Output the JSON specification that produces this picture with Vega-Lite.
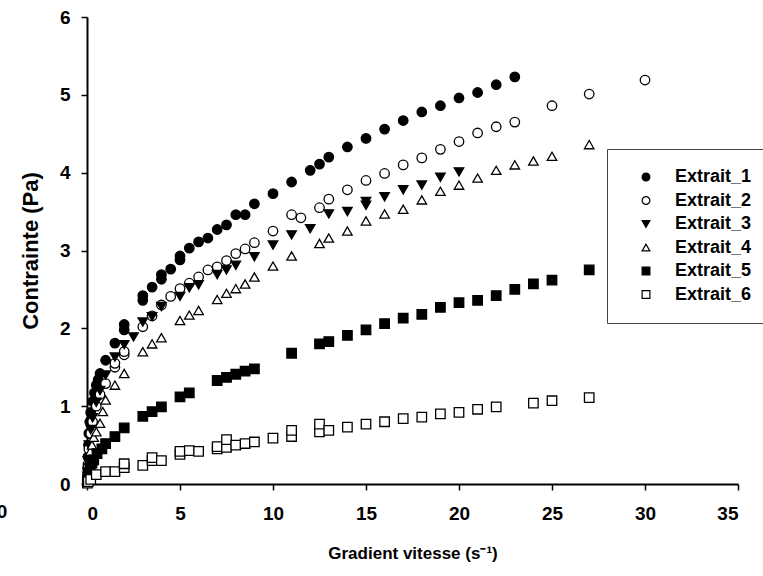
{
  "$schema": "https://vega.github.io/schema/vega-lite/v6.json",
  "width": 651,
  "height": 467,
  "autosize": {"type": "none"},
  "padding": {"left": 87, "top": 17, "right": 25, "bottom": 92},
  "background": "white",
  "config": {"view": {"stroke": null}, "font": "Liberation Sans"},
  "datasets": {
    "pts": [
      {"s":"Extrait_1","x":0.01,"y":0.05},{"s":"Extrait_1","x":0.03,"y":0.2},{"s":"Extrait_1","x":0.05,"y":0.35},{"s":"Extrait_1","x":0.08,"y":0.5},{"s":"Extrait_1","x":0.1,"y":0.65},{"s":"Extrait_1","x":0.15,"y":0.8},{"s":"Extrait_1","x":0.2,"y":0.92},{"s":"Extrait_1","x":0.3,"y":1.06},{"s":"Extrait_1","x":0.4,"y":1.17},{"s":"Extrait_1","x":0.5,"y":1.27},{"s":"Extrait_1","x":0.6,"y":1.34},{"s":"Extrait_1","x":0.7,"y":1.42},{"s":"Extrait_1","x":1,"y":1.59},{"s":"Extrait_1","x":1.5,"y":1.81},{"s":"Extrait_1","x":2,"y":1.98},{"s":"Extrait_1","x":2,"y":2.05},{"s":"Extrait_1","x":3,"y":2.36},{"s":"Extrait_1","x":3,"y":2.42},{"s":"Extrait_1","x":3.5,"y":2.53},{"s":"Extrait_1","x":4,"y":2.63},{"s":"Extrait_1","x":4,"y":2.69},{"s":"Extrait_1","x":4.5,"y":2.76},{"s":"Extrait_1","x":5,"y":2.88},{"s":"Extrait_1","x":5,"y":2.93},{"s":"Extrait_1","x":5.5,"y":3.03},{"s":"Extrait_1","x":6,"y":3.11},{"s":"Extrait_1","x":6.5,"y":3.16},{"s":"Extrait_1","x":7,"y":3.27},{"s":"Extrait_1","x":7.5,"y":3.33},{"s":"Extrait_1","x":8,"y":3.46},{"s":"Extrait_1","x":8.5,"y":3.46},{"s":"Extrait_1","x":9,"y":3.6},{"s":"Extrait_1","x":10,"y":3.73},{"s":"Extrait_1","x":11,"y":3.88},{"s":"Extrait_1","x":12,"y":4.03},{"s":"Extrait_1","x":12.5,"y":4.11},{"s":"Extrait_1","x":13,"y":4.2},{"s":"Extrait_1","x":14,"y":4.33},{"s":"Extrait_1","x":15,"y":4.44},{"s":"Extrait_1","x":16,"y":4.56},{"s":"Extrait_1","x":17,"y":4.67},{"s":"Extrait_1","x":18,"y":4.78},{"s":"Extrait_1","x":19,"y":4.86},{"s":"Extrait_1","x":20,"y":4.96},{"s":"Extrait_1","x":21,"y":5.03},{"s":"Extrait_1","x":22,"y":5.13},{"s":"Extrait_1","x":23,"y":5.23},
      {"s":"Extrait_2","x":0.02,"y":0.1},{"s":"Extrait_2","x":0.05,"y":0.25},{"s":"Extrait_2","x":0.1,"y":0.45},{"s":"Extrait_2","x":0.2,"y":0.65},{"s":"Extrait_2","x":0.3,"y":0.8},{"s":"Extrait_2","x":0.5,"y":1.0},{"s":"Extrait_2","x":0.7,"y":1.15},{"s":"Extrait_2","x":1,"y":1.29},{"s":"Extrait_2","x":1.5,"y":1.5},{"s":"Extrait_2","x":1.5,"y":1.55},{"s":"Extrait_2","x":2,"y":1.66},{"s":"Extrait_2","x":2,"y":1.7},{"s":"Extrait_2","x":3,"y":2.02},{"s":"Extrait_2","x":3.5,"y":2.16},{"s":"Extrait_2","x":4,"y":2.3},{"s":"Extrait_2","x":4.5,"y":2.41},{"s":"Extrait_2","x":5,"y":2.51},{"s":"Extrait_2","x":5.5,"y":2.58},{"s":"Extrait_2","x":6,"y":2.66},{"s":"Extrait_2","x":6.5,"y":2.75},{"s":"Extrait_2","x":7,"y":2.79},{"s":"Extrait_2","x":7.5,"y":2.87},{"s":"Extrait_2","x":8,"y":2.96},{"s":"Extrait_2","x":8.5,"y":3.02},{"s":"Extrait_2","x":9,"y":3.1},{"s":"Extrait_2","x":10,"y":3.25},{"s":"Extrait_2","x":11,"y":3.46},{"s":"Extrait_2","x":11.5,"y":3.42},{"s":"Extrait_2","x":12.5,"y":3.55},{"s":"Extrait_2","x":13,"y":3.66},{"s":"Extrait_2","x":14,"y":3.78},{"s":"Extrait_2","x":15,"y":3.9},{"s":"Extrait_2","x":16,"y":3.99},{"s":"Extrait_2","x":17,"y":4.1},{"s":"Extrait_2","x":18,"y":4.19},{"s":"Extrait_2","x":19,"y":4.3},{"s":"Extrait_2","x":20,"y":4.4},{"s":"Extrait_2","x":21,"y":4.51},{"s":"Extrait_2","x":22,"y":4.59},{"s":"Extrait_2","x":23,"y":4.65},{"s":"Extrait_2","x":25,"y":4.86},{"s":"Extrait_2","x":27,"y":5.01},{"s":"Extrait_2","x":30,"y":5.19},
      {"s":"Extrait_3","x":0.02,"y":0.1},{"s":"Extrait_3","x":0.05,"y":0.3},{"s":"Extrait_3","x":0.1,"y":0.5},{"s":"Extrait_3","x":0.2,"y":0.7},{"s":"Extrait_3","x":0.3,"y":0.85},{"s":"Extrait_3","x":0.5,"y":1.05},{"s":"Extrait_3","x":0.7,"y":1.2},{"s":"Extrait_3","x":1,"y":1.4},{"s":"Extrait_3","x":1.5,"y":1.63},{"s":"Extrait_3","x":2,"y":1.79},{"s":"Extrait_3","x":2.5,"y":1.89},{"s":"Extrait_3","x":3,"y":2.08},{"s":"Extrait_3","x":3.5,"y":2.15},{"s":"Extrait_3","x":4,"y":2.28},{"s":"Extrait_3","x":5,"y":2.41},{"s":"Extrait_3","x":5.5,"y":2.52},{"s":"Extrait_3","x":6,"y":2.56},{"s":"Extrait_3","x":7,"y":2.69},{"s":"Extrait_3","x":7.5,"y":2.75},{"s":"Extrait_3","x":8,"y":2.81},{"s":"Extrait_3","x":9,"y":2.92},{"s":"Extrait_3","x":10,"y":3.07},{"s":"Extrait_3","x":11,"y":3.2},{"s":"Extrait_3","x":12,"y":3.28},{"s":"Extrait_3","x":13,"y":3.47},{"s":"Extrait_3","x":14,"y":3.5},{"s":"Extrait_3","x":15,"y":3.58},{"s":"Extrait_3","x":15,"y":3.63},{"s":"Extrait_3","x":16,"y":3.69},{"s":"Extrait_3","x":17,"y":3.78},{"s":"Extrait_3","x":18,"y":3.84},{"s":"Extrait_3","x":19,"y":3.94},{"s":"Extrait_3","x":20,"y":4.01},
      {"s":"Extrait_4","x":0.02,"y":0.05},{"s":"Extrait_4","x":0.05,"y":0.15},{"s":"Extrait_4","x":0.1,"y":0.3},{"s":"Extrait_4","x":0.18,"y":0.42},{"s":"Extrait_4","x":0.27,"y":0.5},{"s":"Extrait_4","x":0.36,"y":0.6},{"s":"Extrait_4","x":0.5,"y":0.67},{"s":"Extrait_4","x":0.7,"y":0.78},{"s":"Extrait_4","x":0.85,"y":0.93},{"s":"Extrait_4","x":1,"y":1.08},{"s":"Extrait_4","x":1.5,"y":1.27},{"s":"Extrait_4","x":2,"y":1.42},{"s":"Extrait_4","x":3,"y":1.7},{"s":"Extrait_4","x":3.5,"y":1.8},{"s":"Extrait_4","x":4,"y":1.88},{"s":"Extrait_4","x":5,"y":2.1},{"s":"Extrait_4","x":5.5,"y":2.17},{"s":"Extrait_4","x":6,"y":2.23},{"s":"Extrait_4","x":7,"y":2.37},{"s":"Extrait_4","x":7.5,"y":2.45},{"s":"Extrait_4","x":8,"y":2.51},{"s":"Extrait_4","x":8.5,"y":2.57},{"s":"Extrait_4","x":9,"y":2.66},{"s":"Extrait_4","x":10,"y":2.8},{"s":"Extrait_4","x":11,"y":2.93},{"s":"Extrait_4","x":12.5,"y":3.09},{"s":"Extrait_4","x":13,"y":3.16},{"s":"Extrait_4","x":14,"y":3.25},{"s":"Extrait_4","x":15,"y":3.38},{"s":"Extrait_4","x":16,"y":3.47},{"s":"Extrait_4","x":17,"y":3.53},{"s":"Extrait_4","x":18,"y":3.65},{"s":"Extrait_4","x":19,"y":3.76},{"s":"Extrait_4","x":20,"y":3.84},{"s":"Extrait_4","x":21,"y":3.93},{"s":"Extrait_4","x":22,"y":4.03},{"s":"Extrait_4","x":23,"y":4.1},{"s":"Extrait_4","x":24,"y":4.15},{"s":"Extrait_4","x":25,"y":4.21},{"s":"Extrait_4","x":27,"y":4.36},
      {"s":"Extrait_5","x":0.02,"y":0.03},{"s":"Extrait_5","x":0.05,"y":0.08},{"s":"Extrait_5","x":0.1,"y":0.15},{"s":"Extrait_5","x":0.18,"y":0.22},{"s":"Extrait_5","x":0.27,"y":0.27},{"s":"Extrait_5","x":0.36,"y":0.31},{"s":"Extrait_5","x":0.54,"y":0.39},{"s":"Extrait_5","x":0.8,"y":0.45},{"s":"Extrait_5","x":1,"y":0.52},{"s":"Extrait_5","x":1.5,"y":0.61},{"s":"Extrait_5","x":2,"y":0.72},{"s":"Extrait_5","x":3,"y":0.87},{"s":"Extrait_5","x":3.5,"y":0.93},{"s":"Extrait_5","x":4,"y":0.99},{"s":"Extrait_5","x":5,"y":1.12},{"s":"Extrait_5","x":5.5,"y":1.17},{"s":"Extrait_5","x":7,"y":1.33},{"s":"Extrait_5","x":7.5,"y":1.37},{"s":"Extrait_5","x":8,"y":1.41},{"s":"Extrait_5","x":8.5,"y":1.45},{"s":"Extrait_5","x":9,"y":1.48},{"s":"Extrait_5","x":11,"y":1.68},{"s":"Extrait_5","x":12.5,"y":1.8},{"s":"Extrait_5","x":13,"y":1.83},{"s":"Extrait_5","x":14,"y":1.91},{"s":"Extrait_5","x":15,"y":1.98},{"s":"Extrait_5","x":16,"y":2.06},{"s":"Extrait_5","x":17,"y":2.13},{"s":"Extrait_5","x":18,"y":2.18},{"s":"Extrait_5","x":19,"y":2.27},{"s":"Extrait_5","x":20,"y":2.33},{"s":"Extrait_5","x":21,"y":2.36},{"s":"Extrait_5","x":22,"y":2.42},{"s":"Extrait_5","x":23,"y":2.5},{"s":"Extrait_5","x":24,"y":2.57},{"s":"Extrait_5","x":25,"y":2.62},{"s":"Extrait_5","x":27,"y":2.75},
      {"s":"Extrait_6","x":0.02,"y":0.01},{"s":"Extrait_6","x":0.07,"y":0.03},{"s":"Extrait_6","x":0.2,"y":0.06},{"s":"Extrait_6","x":0.5,"y":0.12},{"s":"Extrait_6","x":1,"y":0.16},{"s":"Extrait_6","x":1.5,"y":0.16},{"s":"Extrait_6","x":2,"y":0.21},{"s":"Extrait_6","x":2,"y":0.26},{"s":"Extrait_6","x":3,"y":0.24},{"s":"Extrait_6","x":3.5,"y":0.3},{"s":"Extrait_6","x":3.5,"y":0.34},{"s":"Extrait_6","x":4,"y":0.3},{"s":"Extrait_6","x":5,"y":0.38},{"s":"Extrait_6","x":5,"y":0.42},{"s":"Extrait_6","x":5.5,"y":0.43},{"s":"Extrait_6","x":6,"y":0.42},{"s":"Extrait_6","x":7,"y":0.45},{"s":"Extrait_6","x":7,"y":0.48},{"s":"Extrait_6","x":7.5,"y":0.47},{"s":"Extrait_6","x":7.5,"y":0.57},{"s":"Extrait_6","x":8,"y":0.5},{"s":"Extrait_6","x":8.5,"y":0.52},{"s":"Extrait_6","x":9,"y":0.54},{"s":"Extrait_6","x":10,"y":0.59},{"s":"Extrait_6","x":11,"y":0.61},{"s":"Extrait_6","x":11,"y":0.69},{"s":"Extrait_6","x":12.5,"y":0.67},{"s":"Extrait_6","x":12.5,"y":0.77},{"s":"Extrait_6","x":13,"y":0.69},{"s":"Extrait_6","x":14,"y":0.73},{"s":"Extrait_6","x":15,"y":0.77},{"s":"Extrait_6","x":16,"y":0.8},{"s":"Extrait_6","x":17,"y":0.84},{"s":"Extrait_6","x":18,"y":0.86},{"s":"Extrait_6","x":19,"y":0.9},{"s":"Extrait_6","x":20,"y":0.92},{"s":"Extrait_6","x":21,"y":0.96},{"s":"Extrait_6","x":22,"y":0.99},{"s":"Extrait_6","x":24,"y":1.04},{"s":"Extrait_6","x":25,"y":1.07},{"s":"Extrait_6","x":27,"y":1.11}
    ]
  },
  "layer": [
    {
      "data": {"name": "pts"},
      "mark": {"type": "point", "filled": true, "stroke": "black", "strokeWidth": 1.3, "size": 90, "opacity": 1},
      "encoding": {
        "x": {
          "field": "x", "type": "quantitative",
          "scale": {"domain": [0, 35], "nice": false, "zero": false},
          "axis": {
            "title": "Gradient vitesse (s⁻¹)", "values": [0, 5, 10, 15, 20, 25, 30, 35], "format": "d",
            "grid": false, "domainColor": "black", "domainWidth": 2, "tickColor": "black", "tickWidth": 1.5, "tickSize": 6,
            "labelFont": "Liberation Sans", "labelFontWeight": "bold", "labelFontSize": 19, "labelColor": "black", "labelPadding": 14,
            "titleFont": "Liberation Sans", "titleFontWeight": "bold", "titleFontSize": 17, "titleColor": "black", "titlePadding": 22
          }
        },
        "y": {
          "field": "y", "type": "quantitative",
          "scale": {"domain": [0, 6], "nice": false},
          "axis": {
            "title": "Contrainte (Pa)", "values": [0, 1, 2, 3, 4, 5, 6], "format": "d",
            "grid": false, "domainColor": "black", "domainWidth": 2, "tickColor": "black", "tickWidth": 1.5, "tickSize": 6,
            "labelFont": "Liberation Sans", "labelFontWeight": "bold", "labelFontSize": 19, "labelColor": "black", "labelPadding": 11,
            "titleFont": "Liberation Sans", "titleFontWeight": "bold", "titleFontSize": 22, "titleColor": "black", "titlePadding": 17
          }
        },
        "shape": {
          "field": "s", "type": "nominal",
          "scale": {"domain": ["Extrait_1", "Extrait_2", "Extrait_3", "Extrait_4", "Extrait_5", "Extrait_6"], "range": ["circle", "circle", "triangle-down", "triangle-up", "square", "square"]},
          "legend": {"orient": "none", "legendX": 520, "legendY": 132, "title": null, "strokeColor": "#444", "fillColor": "white", "padding": 19, "labelFont": "Liberation Sans", "labelFontWeight": "bold", "labelFontSize": 18, "labelColor": "black", "symbolSize": 60, "symbolStrokeColor": "black", "symbolStrokeWidth": 1.2, "rowPadding": 5.5, "labelOffset": 20, "symbolOffset": 11}
        },
        "color": {
          "field": "s", "type": "nominal",
          "scale": {"domain": ["Extrait_1", "Extrait_2", "Extrait_3", "Extrait_4", "Extrait_5", "Extrait_6"], "range": ["black", "white", "black", "white", "black", "white"]},
          "legend": {"orient": "none", "legendX": 520, "legendY": 132, "title": null, "strokeColor": "#444", "fillColor": "white", "padding": 19, "labelFont": "Liberation Sans", "labelFontWeight": "bold", "labelFontSize": 18, "labelColor": "black", "symbolSize": 60, "symbolStrokeColor": "black", "symbolStrokeWidth": 1.2, "rowPadding": 5.5, "labelOffset": 20, "symbolOffset": 11}
        }
      }
    },
    {
      "data": {"values": [{"x": -4.57, "y": -0.36, "t": "0"}]},
      "mark": {"type": "text", "clip": false, "font": "Liberation Sans", "fontWeight": "bold", "fontSize": 19, "color": "black", "align": "center", "baseline": "middle"},
      "encoding": {
        "x": {"field": "x", "type": "quantitative"},
        "y": {"field": "y", "type": "quantitative"},
        "text": {"field": "t"}
      }
    }
  ]
}
